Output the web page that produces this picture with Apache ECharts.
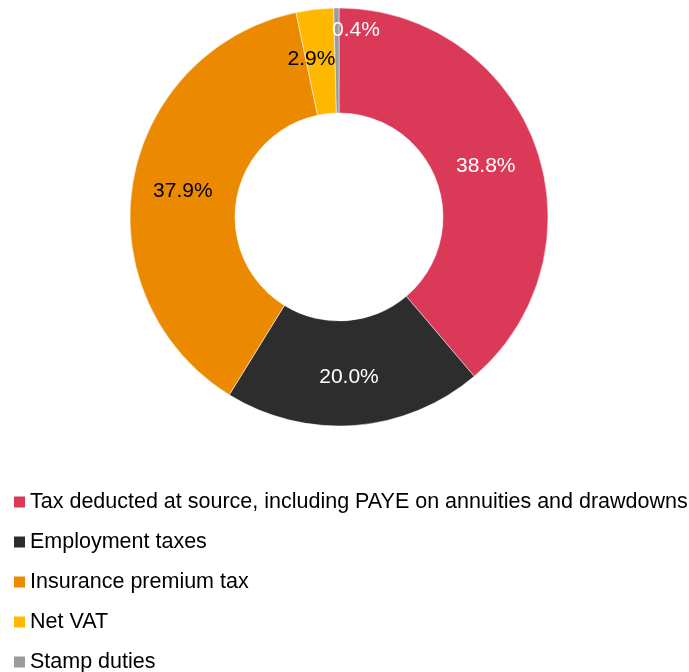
<!DOCTYPE html>
<html>
<head>
<meta charset="utf-8">
<script src="https://cdn.jsdelivr.net/npm/echarts@6/dist/echarts.min.js"></script>
<style>
  html, body { margin: 0; padding: 0; background: #ffffff; }
  #chart { width: 689px; height: 672px; }
</style>
</head>
<body>
<div id="chart"></div>
<script>
// Tax categories and their share of the total (%)
const categories = [
  'Tax deducted at source, including PAYE on annuities and drawdowns',
  'Employment taxes',
  'Insurance premium tax',
  'Net VAT',
  'Stamp duties'
];
const shares = [38.8, 20.0, 37.9, 2.9, 0.4];
const colors = ['#DA3A58', '#2D2D2D', '#EB8A00', '#FFB800', '#9B9B9B'];
const labelColors = ['#ffffff', '#ffffff', '#000000', '#000000', '#ffffff'];
const labelOffsets = [[-3, 4], [-2, 1], [1, 2], [-9, 1], [19, -27]];

const font = '"Liberation Sans", Arial, sans-serif';

const chart = echarts.init(document.getElementById('chart'), null, { renderer: 'canvas' });

chart.setOption({
  animation: false,
  color: colors,
  legend: {
    orient: 'vertical',
    left: 14,
    top: 491,
    height: 190,
    padding: 0,
    itemWidth: 11,
    itemHeight: 11,
    itemGap: 18,
    icon: 'rect',
    itemStyle: { borderWidth: 0 },
    textStyle: { fontFamily: font, fontSize: 21.5, color: '#000000', padding: [0, 0, 0, 0] },
    data: categories
  },
  series: [{
    type: 'pie',
    center: [339, 217],
    radius: [104, 209],
    startAngle: 90,
    clockwise: true,
    avoidLabelOverlap: false,
    itemStyle: { borderColor: '#ffffff', borderWidth: 0.5 },
    label: {
      position: 'inside',
      fontFamily: font,
      fontSize: 21,
      formatter: p => p.value.toFixed(1) + '%'
    },
    labelLine: { show: false },
    emphasis: { disabled: true },
    data: categories.map((name, i) => ({
      name,
      value: shares[i],
      label: { color: labelColors[i], offset: labelOffsets[i] }
    }))
  }]
});
</script>
</body>
</html>
